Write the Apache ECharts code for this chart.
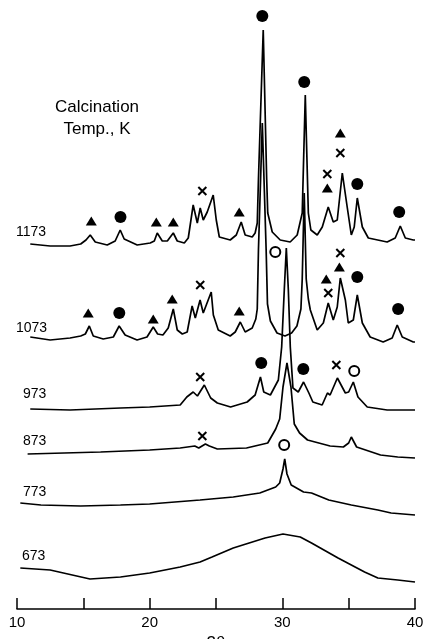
<!DOCTYPE html>
<html>
<head>
<meta charset="utf-8">
<script src="https://cdn.jsdelivr.net/npm/echarts@6/dist/echarts.min.js"></script>
<style>
  html, body { margin: 0; padding: 0; background: #fff; }
  #xrd { width: 423px; height: 639px; }
</style>
</head>
<body>
<div id="xrd"></div>
<script>
// 2theta (deg) vs stacked intensity (offset already included)
var t673 = [[10.25, 41], [12.5, 39], [15.5, 30], [17.8, 32], [20.0, 36], [22.3, 42], [23.8, 47], [24.7, 52],
  [26.3, 61], [28.7, 71], [30.05, 75], [31.35, 72], [32.2, 66], [34.2, 51], [36.2, 37], [37.2, 31], [38.7, 29], [40.0, 27]];

var t773 = [[10.25, 106], [11.8, 104], [14.8, 103], [17.8, 104], [20.0, 105], [23.8, 109], [26.3, 112], [28.3, 116],
  [29.5, 122], [29.8, 126], [30.05, 140], [30.18, 150], [30.35, 135], [30.67, 124], [31.6, 117], [32.2, 116],
  [33.5, 109], [35.2, 104], [37.2, 99], [38.2, 96], [40.0, 94]];

var t873 = [[10.8, 155], [16.3, 157], [20.0, 159], [22.3, 161], [23.4, 163], [23.7, 161], [24.2, 165], [24.5, 163],
  [25.1, 160], [27.3, 161], [28.9, 166], [29.5, 180], [29.8, 190], [30.05, 222], [30.35, 246], [30.65, 222],
  [30.9, 185], [31.3, 176], [31.9, 169], [33.6, 163], [34.6, 162], [35.0, 166], [35.2, 172], [35.6, 162],
  [37.4, 154], [38.7, 152], [40.0, 151]];

var t973 = [[11.0, 200], [14.0, 199], [17.8, 201], [20.0, 202], [22.3, 204], [22.8, 212], [23.28, 217], [23.6, 213],
  [24.12, 224], [24.6, 211], [25.1, 206], [26.1, 202], [27.35, 207], [27.95, 214], [28.35, 232], [28.6, 217],
  [29.1, 214], [29.7, 229], [29.95, 262], [30.15, 320], [30.3, 361], [30.45, 320], [30.6, 262], [30.8, 221],
  [31.2, 217], [31.6, 227], [32.0, 216], [32.3, 207], [33.0, 204], [33.4, 216], [33.6, 214], [34.15, 231],
  [34.75, 216], [35.0, 217], [35.35, 227], [35.7, 212], [36.4, 202], [37.9, 199], [40.0, 199]];

var t1073 = [[11.0, 272], [12.5, 269], [14.0, 271], [14.8, 273], [15.15, 275], [15.45, 283], [15.75, 273], [16.5, 270],
  [17.26, 272], [17.7, 283], [18.15, 274], [19.05, 269], [19.8, 272], [20.27, 282], [20.6, 275], [21.0, 274],
  [21.4, 281], [21.78, 300], [22.08, 279], [22.46, 275], [22.83, 277], [22.9, 282], [23.2, 303], [23.44, 291],
  [23.8, 309], [24.04, 296], [24.64, 317], [24.8, 294], [25.17, 279], [26.07, 273], [26.45, 277], [26.83, 287],
  [27.2, 277], [27.73, 281], [28.0, 290], [28.11, 300], [28.2, 359], [28.49, 486], [28.78, 359], [28.88, 305],
  [29.1, 288], [29.6, 276], [30.2, 273], [30.7, 276], [31.1, 283], [31.4, 300], [31.5, 330], [31.65, 416],
  [31.8, 330], [31.96, 310], [32.11, 299], [32.63, 279], [33.09, 286], [33.46, 306], [33.84, 289], [34.14, 302],
  [34.37, 331], [34.75, 309], [34.97, 286], [35.35, 289], [35.65, 314], [36.03, 286], [36.62, 272], [37.6, 267],
  [38.28, 271], [38.66, 284], [39.04, 272], [39.87, 267], [40.0, 267]];

var t1173 = [[11.0, 365], [12.5, 363], [14.0, 363], [14.8, 365], [15.2, 369], [15.52, 374], [15.9, 367], [16.8, 364],
  [17.4, 368], [17.78, 379], [18.08, 370], [19.06, 364], [20.04, 366], [20.35, 368], [20.57, 376], [20.95, 368],
  [21.33, 368], [21.78, 376], [22.08, 368], [22.61, 366], [22.91, 371], [23.28, 404], [23.59, 386], [23.81, 401],
  [24.04, 389], [24.34, 397], [24.79, 414], [25.02, 389], [25.25, 372], [26.07, 369], [26.53, 374], [26.9, 387],
  [27.2, 374], [27.73, 372], [27.95, 376], [28.11, 386], [28.2, 430], [28.56, 579], [28.82, 430], [28.9, 396],
  [29.24, 377], [29.84, 369], [30.59, 367], [31.12, 374], [31.5, 396], [31.73, 514], [31.96, 396], [32.15, 379],
  [32.63, 374], [33.01, 382], [33.46, 402], [33.84, 387], [34.14, 389], [34.52, 436], [34.9, 401], [35.2, 374],
  [35.42, 382], [35.65, 411], [36.03, 382], [36.48, 371], [37.9, 367], [38.51, 371], [38.89, 383], [39.27, 371],
  [39.87, 369], [40.0, 369]];

// phase markers
var dots = [[17.8, 392], [28.49, 593], [31.65, 527], [35.65, 425], [38.81, 397],
  [17.71, 296], [35.65, 332], [38.73, 300],
  [28.41, 246], [31.58, 240]];
var rings = [[35.42, 238], [29.47, 357], [30.14, 164]];
var triangles = [[15.6, 388], [20.5, 387], [21.78, 387], [26.75, 397], [33.39, 421], [34.37, 476],
  [15.37, 296], [20.27, 290], [21.7, 310], [26.75, 298], [34.3, 342], [33.31, 330]];
var crosses = [[23.97, 418], [33.39, 435], [34.37, 456],
  [23.81, 324], [34.37, 356], [33.46, 316],
  [23.81, 232], [34.07, 244],
  [23.97, 173]];

var temps = ['1173', '1073', '973', '873', '773', '673'];
var tickLabels = [10, 20, 30, 40];

var myChart = echarts.init(document.getElementById('xrd'));

function trace(d) {
    return {
        type: 'line',
        data: d,
        showSymbol: false,
        silent: true,
        lineStyle: { color: '#000', width: 1.7 }
    };
}

function marks(d, symbol, size, style) {
    style.opacity = 1;
    return {
        type: 'scatter',
        data: d,
        symbol: symbol,
        symbolSize: size,
        clip: false,
        itemStyle: style
    };
}

// label positions (px) for the temperatures
var labelY = [232, 328, 394, 441, 492, 556];
var labelX = [16, 16, 23, 23, 23, 22];
var graphics = [{
    type: 'text',
    x: 97,
    y: 96,
    style: {
        text: 'Calcination\nTemp., K',
        fill: '#000',
        font: '17px "Liberation Sans", Arial, sans-serif',
        lineHeight: 22,
        align: 'center'
    }
}];
for (var i = 0; i < temps.length; i++) {
    graphics.push({
        type: 'text',
        x: labelX[i],
        y: labelY[i],
        style: {
            text: temps[i],
            fill: '#000',
            font: '14px "Liberation Sans", Arial, sans-serif',
            verticalAlign: 'middle'
        }
    });
}

var option = {
    animation: false,
    backgroundColor: '#fff',
    grid: { left: 17, right: 8, top: 9, bottom: 30, outerBoundsMode: 'none', containLabel: false },
    xAxis: {
        type: 'value',
        min: 10,
        max: 40,
        interval: 5,
        name: '2θ',
        nameLocation: 'middle',
        nameGap: 23,
        nameTextStyle: { color: '#000', fontSize: 17, fontFamily: 'Liberation Sans', verticalAlign: 'top' },
        axisLine: { lineStyle: { color: '#000', width: 1.6 } },
        axisTick: { inside: true, length: 11, lineStyle: { color: '#000', width: 1.5 } },
        axisLabel: {
            color: '#000',
            fontSize: 15,
            fontFamily: 'Liberation Sans',
            margin: 6,
            formatter: function (v) { return tickLabels.indexOf(v) >= 0 ? String(v) : ''; }
        },
        splitLine: { show: false }
    },
    yAxis: { type: 'value', min: 0, max: 600, show: false },
    graphic: graphics,
    series: [
        trace(t673), trace(t773), trace(t873), trace(t973), trace(t1073), trace(t1173),
        marks(dots, 'circle', 12, { color: '#000' }),
        marks(rings, 'circle', 10, { color: '#fff', borderColor: '#000', borderWidth: 2 }),
        marks(triangles, 'triangle', [11, 9], { color: '#000' }),
        marks(crosses, 'path://M0,0L10,10M10,0L0,10', 8, { color: 'none', borderColor: '#000', borderWidth: 2 })
    ]
};

myChart.setOption(option);
</script>
</body>
</html>
